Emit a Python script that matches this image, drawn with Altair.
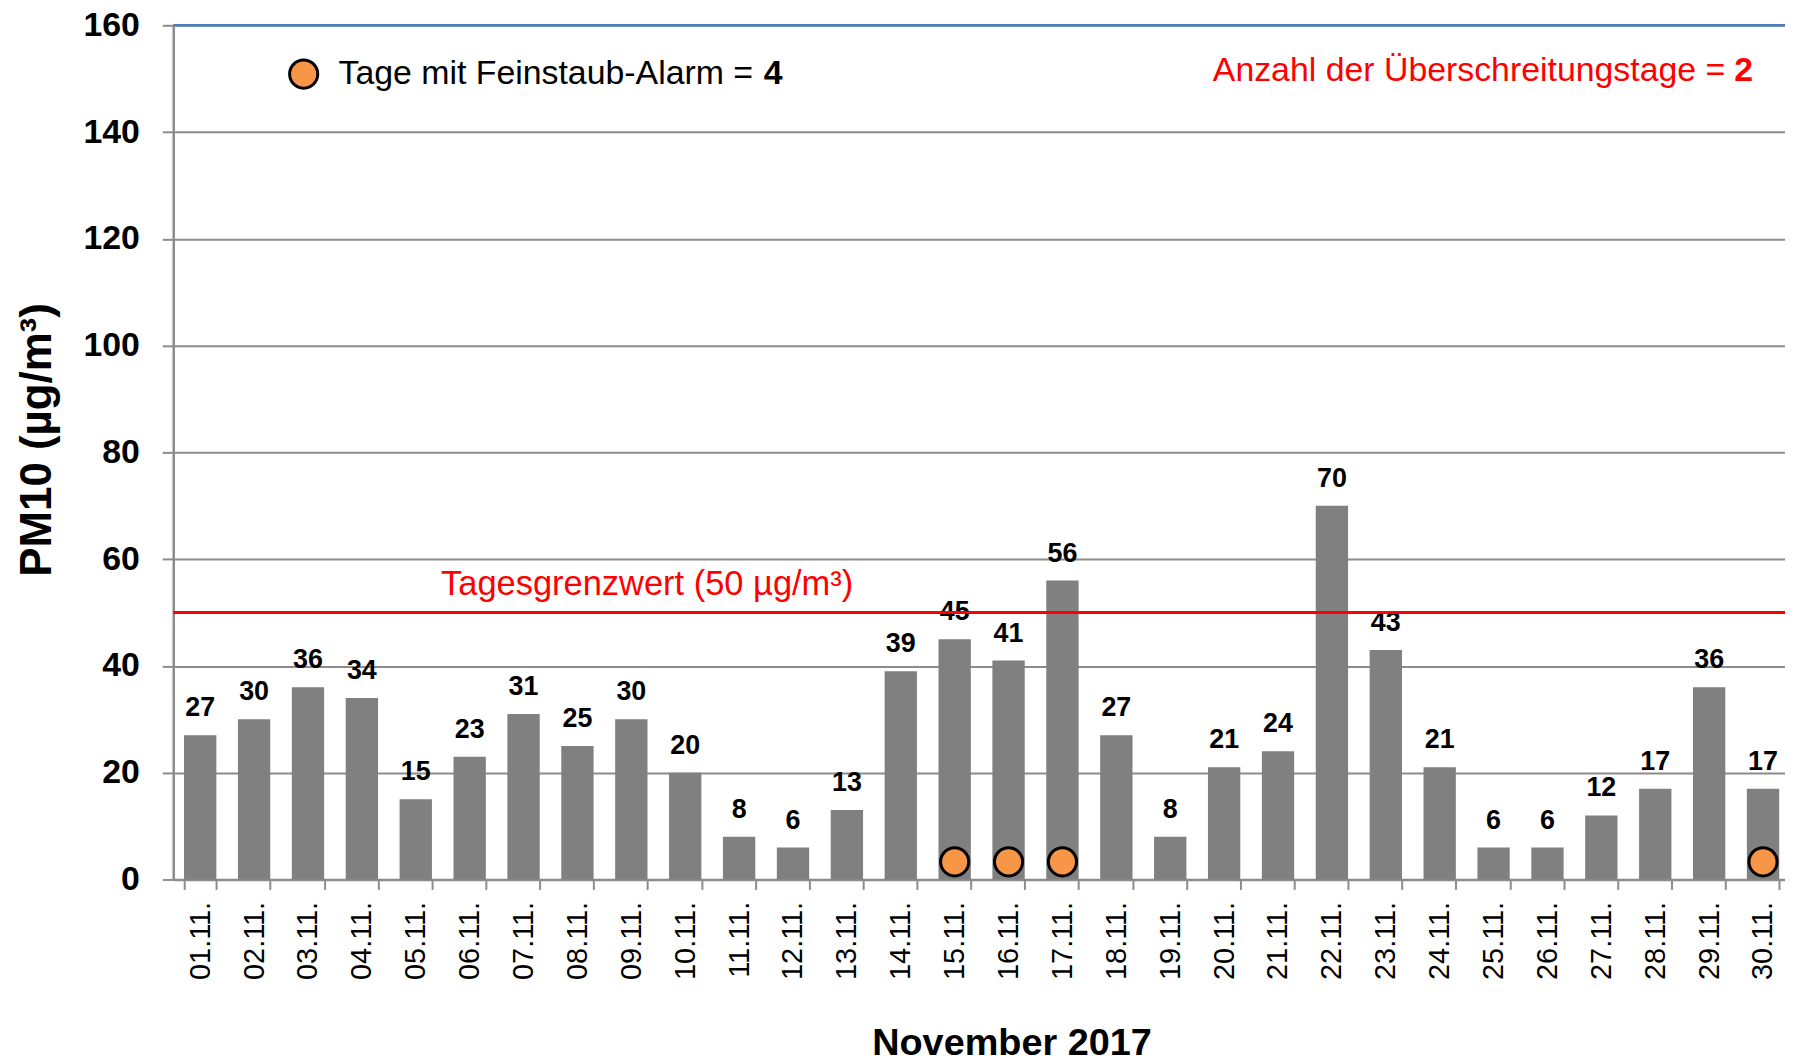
import altair as alt
import pandas as pd

days = ["01.11.", "02.11.", "03.11.", "04.11.", "05.11.", "06.11.", "07.11.", "08.11.", "09.11.", "10.11.",
        "11.11.", "12.11.", "13.11.", "14.11.", "15.11.", "16.11.", "17.11.", "18.11.", "19.11.", "20.11.",
        "21.11.", "22.11.", "23.11.", "24.11.", "25.11.", "26.11.", "27.11.", "28.11.", "29.11.", "30.11."]
pm10 = [27, 30, 36, 34, 15, 23, 31, 25, 30, 20,
        8, 6, 13, 39, 45, 41, 56, 27, 8, 21,
        24, 70, 43, 21, 6, 6, 12, 17, 36, 17]
alarm_days = ["15.11.", "16.11.", "17.11.", "30.11."]
alarm_marker_level = 3.3
limit_value = 50
y_ticks = [0, 20, 40, 60, 80, 100, 120, 140, 160]

FONT = "Liberation Sans"
GRAY = "#8c8c8c"
ORANGE = "#f79646"

df = pd.DataFrame({"day": days, "value": pm10})
alarm_df = pd.DataFrame({"day": alarm_days, "level": [alarm_marker_level] * len(alarm_days)})

W, H = 1619, 858

x_scale = alt.Scale(domain=days, paddingInner=0.4, paddingOuter=0.2, range=[0, 1624])
y_scale = alt.Scale(domain=[0, 160], nice=False)

bars = alt.Chart(df).mark_bar(color="#808080").encode(
    x=alt.X("day:N", scale=x_scale, sort=None,
            axis=alt.Axis(title="November 2017", labelAngle=270, labelFontSize=29, labelColor="black",
                          labelFont=FONT, labelPadding=12, tickBand="extent", tickSize=10,
                          tickColor=GRAY, tickWidth=2, domainColor=GRAY, domainWidth=2.5, grid=False,
                          titleFontSize=38, titleFontWeight="bold", titleFont=FONT, titleColor="black",
                          titleX=842, titleY=176, titleBaseline="alphabetic", titleAlign="center")),
    y=alt.Y("value:Q", scale=y_scale,
            axis=alt.Axis(values=y_ticks, title="PM10 (µg/m³)", titleFontSize=44, titleFontWeight="bold",
                          titleFont=FONT, titleColor="black", titleX=-136, titleY=416,
                          titleBaseline="middle", titleAlign="center",
                          labelFontSize=34, labelFontWeight="bold", labelFont=FONT, labelColor="black",
                          labelPadding=23, tickSize=11, tickColor=GRAY, tickWidth=2,
                          domainColor=GRAY, domainWidth=2.5,
                          grid=True, gridColor=GRAY, gridWidth=2)),
)

labels = alt.Chart(df).mark_text(dy=-19, baseline="alphabetic", fontWeight="bold", fontSize=27,
                                 font=FONT, color="black").encode(
    x=alt.X("day:N", scale=x_scale, sort=None),
    y=alt.Y("value:Q", scale=y_scale),
    text="value:Q",
)

one = alt.Data(values=[{}])

limit_rule = alt.Chart(one).mark_rule(color="#ff0000", strokeWidth=3).encode(
    y=alt.datum(limit_value, scale=y_scale),
)

top_rule = alt.Chart(one).mark_rule(color="#4a7ebb", strokeWidth=2.5).encode(
    y=alt.datum(160, scale=y_scale),
)

limit_text = alt.Chart(one).mark_text(text="Tagesgrenzwert (50 µg/m³)", align="left", baseline="alphabetic",
                                      dy=-18, fontSize=34.6, font=FONT, color="#ff0000").encode(
    x=alt.value(269),
    y=alt.datum(limit_value, scale=y_scale),
)

alarm_pts = alt.Chart(alarm_df).mark_point(shape="circle", filled=True, fill=ORANGE, stroke="black",
                                           strokeWidth=3, size=800, opacity=1).encode(
    x=alt.X("day:N", scale=x_scale, sort=None),
    y=alt.Y("level:Q", scale=y_scale),
)

legend_pt = alt.Chart(one).mark_point(shape="circle", filled=True, fill=ORANGE, stroke="black",
                                      strokeWidth=3, size=800, opacity=1).encode(
    x=alt.value(131), y=alt.value(49),
)
legend_txt = alt.Chart(one).mark_text(text="Tage mit Feinstaub-Alarm =", align="left", baseline="middle",
                                      fontSize=34, font=FONT, color="black").encode(
    x=alt.value(166), y=alt.value(49),
)
legend_num = alt.Chart(one).mark_text(text=str(len(alarm_days)), align="right", baseline="middle",
                                      fontSize=34, font=FONT, fontWeight="bold", color="black").encode(
    x=alt.value(612), y=alt.value(49),
)

exceed_count = sum(1 for v in pm10 if v > limit_value)
exceed_txt = alt.Chart(one).mark_text(text="Anzahl der Überschreitungstage =", align="right", baseline="middle",
                                      fontSize=34, font=FONT, color="#ff0000").encode(
    x=alt.value(1559), y=alt.value(46),
)
exceed_num = alt.Chart(one).mark_text(text=str(exceed_count), align="right", baseline="middle",
                                      fontSize=34, font=FONT, fontWeight="bold", color="#ff0000").encode(
    x=alt.value(1587), y=alt.value(46),
)

chart = alt.layer(
    bars, top_rule, labels, limit_rule, limit_text, alarm_pts,
    legend_pt, legend_txt, legend_num, exceed_txt, exceed_num,
).properties(
    width=W, height=H,
    autosize=alt.AutoSizeParams(type="none"),
    padding={"left": 166, "top": 15, "right": 0, "bottom": 181},
).configure_view(stroke=None).configure(font=FONT)

chart.save("out.html", embed_options={"renderer": "svg", "actions": False})
